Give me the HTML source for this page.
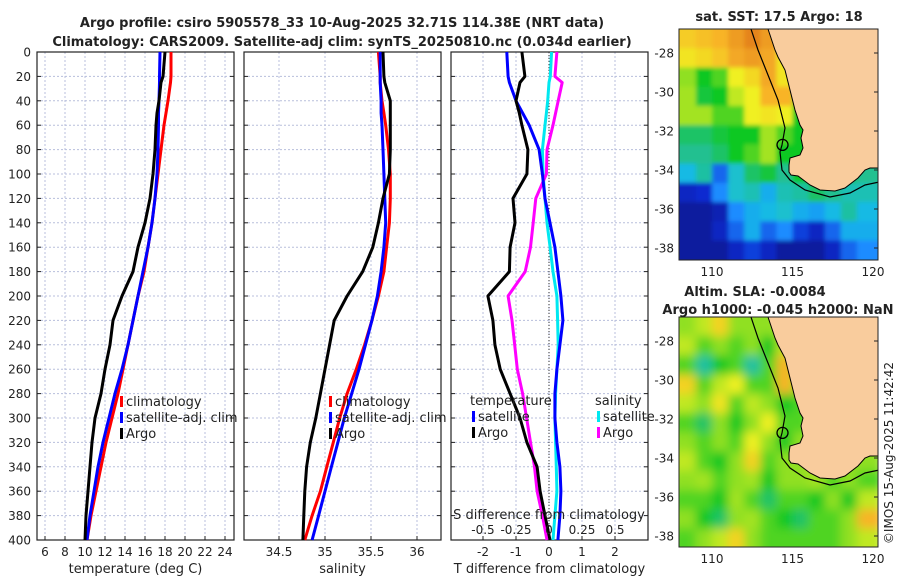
<!DOCTYPE html>
<html><head><meta charset="utf-8"><style>
body{margin:0;background:#fff;}
svg text{font-family:"DejaVu Sans","Liberation Sans",sans-serif;fill:#222;}
</style></head><body>
<svg id="c" width="900" height="580" viewBox="0 0 900 580" xmlns="http://www.w3.org/2000/svg">
<defs><filter id="blurS" x="-5%" y="-5%" width="110%" height="110%"><feGaussianBlur stdDeviation="2"/></filter>
<filter id="blurA" x="-5%" y="-5%" width="110%" height="110%"><feGaussianBlur stdDeviation="5"/></filter></defs>
</svg>
<script>
// ---- data ----
const depthT = [0,20,25,40,50,60,80,100,120,140,160,180,200,220,240,260,280,300,320,340,360,380,400];
const tempClim = [18.6,18.6,18.55,18.3,18.1,17.9,17.6,17.3,17.0,16.7,16.3,15.9,15.3,14.8,14.3,13.8,13.3,12.7,12.1,11.6,11.1,10.6,10.2];
const tempSat  = [17.5,17.45,17.45,17.4,17.35,17.35,17.3,17.2,17.0,16.7,16.3,15.8,15.3,14.8,14.3,13.7,13.0,12.4,11.8,11.3,10.9,10.5,10.2];
const tempArgo = [18.0,17.8,17.6,17.4,17.2,17.1,17.0,16.8,16.5,16.0,15.3,14.8,13.7,12.8,12.5,12.0,11.6,11.0,10.7,10.5,10.3,10.1,10.0];
const salClim = [35.58,35.6,35.6,35.62,35.64,35.66,35.69,35.71,35.71,35.7,35.67,35.64,35.58,35.51,35.43,35.34,35.24,35.16,35.09,35.02,34.95,34.86,34.78];
const salSat  = [35.6,35.6,35.6,35.61,35.61,35.62,35.63,35.64,35.65,35.66,35.64,35.61,35.57,35.51,35.44,35.37,35.29,35.21,35.14,35.07,35.0,34.93,34.86];
const salArgo = [35.63,35.64,35.65,35.71,35.71,35.71,35.71,35.7,35.63,35.58,35.52,35.41,35.24,35.1,35.05,35.0,34.95,34.9,34.84,34.8,34.78,34.77,34.76];
const dTSat  = [-1.28,-1.24,-1.2,-1.0,-0.8,-0.6,-0.3,-0.2,-0.12,0.03,0.18,0.27,0.36,0.42,0.33,0.24,0.18,0.18,0.24,0.33,0.36,0.33,0.27];
const dTArgo = [-0.82,-0.73,-0.88,-1.0,-0.9,-0.82,-0.64,-0.67,-1.09,-1.03,-1.18,-1.2,-1.85,-1.7,-1.64,-1.48,-1.18,-0.88,-0.67,-0.36,-0.27,-0.12,0.03];
const dSSat  = [0.02,0.01,0.0,-0.01,-0.02,-0.03,-0.05,-0.045,-0.03,-0.015,0.008,0.03,0.06,0.065,0.07,0.06,0.05,0.045,0.05,0.055,0.06,0.045,0.03];
const dSArgo = [0.06,0.045,0.1,0.07,0.05,0.03,-0.015,-0.02,-0.1,-0.12,-0.14,-0.18,-0.31,-0.28,-0.26,-0.24,-0.2,-0.17,-0.14,-0.11,-0.09,-0.05,-0.015];
const depthTicks = [0,20,40,60,80,100,120,140,160,180,200,220,240,260,280,300,320,340,360,380,400];
const tempTicks = [6,8,10,12,14,16,18,20,22,24];
const salTicks = [34.5,35,35.5,36];
const dTTicks = [-2,-1,0,1,2];
const dSTickLabels = ["-0.5","-0.25","0","0.25","0.5"];
const dSTicks = [-0.5,-0.25,0,0.25,0.5];
const latTicks = [-28,-30,-32,-34,-36,-38];
const lonTicks = [110,115,120];
const sstGrid = [
[.76,.78,.80,.84,.88,.84,.78,.6,.5,.5,.5,.5],
[.72,.74,.77,.82,.84,.82,.72,.6,.5,.5,.5,.5],
[.60,.50,.55,.70,.74,.82,.72,.55,.5,.5,.5,.5],
[.62,.48,.50,.65,.70,.80,.80,.60,.5,.5,.5,.5],
[.62,.62,.55,.55,.70,.72,.70,.50,.5,.5,.5,.5],
[.45,.45,.48,.50,.50,.62,.55,.50,.45,.5,.5,.5],
[.42,.42,.45,.50,.55,.62,.50,.50,.35,.45,.45,.45],
[.32,.40,.20,.35,.45,.48,.42,.50,.48,.45,.45,.42],
[.10,.12,.25,.35,.38,.30,.38,.40,.45,.42,.38,.38],
[.05,.05,.08,.25,.30,.32,.35,.30,.28,.32,.40,.32],
[.05,.05,.10,.20,.30,.20,.25,.15,.10,.20,.30,.30],
[.05,.05,.05,.10,.15,.10,.05,.05,.05,.10,.20,.25]];
const slaGrid = [
[.60,.65,.75,.60,.60,.60,.62,.55,.6,.6,.6,.6],
[.65,.55,.60,.55,.60,.50,.65,.60,.6,.6,.6,.6],
[.55,.40,.50,.55,.40,.55,.80,.60,.6,.6,.6,.6],
[.75,.55,.65,.70,.55,.55,.80,.60,.6,.6,.6,.6],
[.65,.60,.72,.55,.65,.60,.50,.55,.6,.6,.6,.6],
[.55,.45,.60,.50,.60,.70,.55,.55,.6,.6,.6,.6],
[.60,.55,.60,.55,.70,.60,.50,.60,.6,.6,.6,.6],
[.65,.55,.50,.60,.75,.55,.60,.60,.65,.60,.60,.60],
[.60,.62,.55,.60,.62,.50,.60,.60,.62,.55,.60,.55],
[.55,.55,.50,.62,.55,.45,.55,.55,.50,.60,.50,.65],
[.60,.50,.45,.60,.62,.55,.50,.45,.55,.55,.60,.80],
[.55,.60,.65,.75,.60,.55,.55,.55,.55,.55,.60,.65]];

// ---- helpers ----
const svg=document.getElementById('c');const NS='http://www.w3.org/2000/svg';
function mk(tag,attrs,parent){const e=document.createElementNS(NS,tag);for(const k in attrs)e.setAttribute(k,attrs[k]);(parent||svg).appendChild(e);return e;}
function txt(s,x,y,attrs,parent){const t=mk('text',Object.assign({x:x,y:y},attrs||{}),parent);t.textContent=s;return t;}
const top0=52,bot0=540;
const yD=d=>top0+d*(bot0-top0)/400;
function lin(d0,d1,r0,r1){return v=>r0+(v-d0)*(r1-r0)/(d1-d0);}
const panels=[
 {x0:37,x1:234,sc:lin(6,24,45,225),ticks:tempTicks,label:'temperature (deg C)',name:'temperature-panel'},
 {x0:244,x1:441,sc:lin(34.5,36,279,417),ticks:salTicks,label:'salinity',name:'salinity-panel'},
 {x0:451,x1:648,sc:lin(0,1,549,582),ticks:dTTicks,label:'T difference from climatology',name:'difference-panel'}];
const sS=lin(0,0.25,549,582);

const t1=txt('Argo profile: csiro 5905578_33 10-Aug-2025 32.71S 114.38E (NRT data)',342,27,{'text-anchor':'middle','font-size':'13','font-weight':'bold'});

const t2=txt('Climatology: CARS2009. Satellite-adj clim: synTS_20250810.nc (0.034d earlier)',342,46,{'text-anchor':'middle','font-size':'13','font-weight':'bold'});


panels.forEach((p,pi)=>{
 const g=mk('g',{});
 
 depthTicks.forEach(d=>{const l=mk('line',{x1:p.x0,x2:p.x1,y1:yD(d),y2:yD(d),stroke:'#b8bfdc','stroke-width':1,'stroke-dasharray':'2,2'},g);
  
  mk('line',{x1:p.x0,x2:p.x0+4,y1:yD(d),y2:yD(d),stroke:'#222'},g);mk('line',{x1:p.x1-4,x2:p.x1,y1:yD(d),y2:yD(d),stroke:'#222'},g);});
 p.ticks.forEach(v=>{const x=p.sc(v);const l=mk('line',{x1:x,x2:x,y1:top0,y2:bot0,stroke:'#b8bfdc','stroke-width':1,'stroke-dasharray':'2,2'},g);
  
  mk('line',{x1:x,x2:x,y1:bot0-4,y2:bot0,stroke:'#222'},g);
  const tl=txt(String(v),x,556,{'text-anchor':'middle','font-size':'12'},g);});
 const xl=txt(p.label,(p.x0+p.x1)/2,573,{'text-anchor':'middle','font-size':'13'},g);
 
 const fr=mk('rect',{x:p.x0,y:top0,width:p.x1-p.x0,height:bot0-top0,fill:'none',stroke:'#222','stroke-width':1.2},g);
 
});
depthTicks.forEach(d=>{const tl=txt(String(d),31,yD(d)+4.5,{'text-anchor':'end','font-size':'12'});
 });
const zl=mk('line',{x1:549,x2:549,y1:top0,y2:bot0,stroke:'#333','stroke-dasharray':'1,2'});


function series(vals,sc,color,name){
 const pts=vals.map((v,i)=>sc(v).toFixed(1)+','+yD(depthT[i]).toFixed(1)).join(' ');
 const l=mk('polyline',{points:pts,fill:'none',stroke:color,'stroke-width':3,'stroke-linejoin':'round'});
 }
series(tempClim,panels[0].sc,'#ff0000','temp-climatology-line');
series(tempSat,panels[0].sc,'#0000ff','temp-satellite-line');
series(tempArgo,panels[0].sc,'#000','temp-argo-line');
series(salClim,panels[1].sc,'#ff0000','sal-climatology-line');
series(salSat,panels[1].sc,'#0000ff','sal-satellite-line');
series(salArgo,panels[1].sc,'#000','sal-argo-line');
series(dSSat,sS,'#00e8f0','sal-diff-satellite-line');
series(dSArgo,sS,'#ff00ff','sal-diff-argo-line');
series(dTSat,panels[2].sc,'#0000ff','temp-diff-satellite-line');
series(dTArgo,panels[2].sc,'#000','temp-diff-argo-line');

function legend(items,x,y,name){
 const g=mk('g',{});
 items.forEach((it,i)=>{const yy=y+i*16;
  if(it[1]) mk('rect',{x:x,y:yy-10,width:3,height:11,fill:it[1]},g);
  txt(it[0],x+(it[1]?6:-2),yy,{'font-size':'13'},g);});}
legend([['climatology','#ff0000'],['satellite-adj. clim','#0000ff'],['Argo','#000']],120,406,'temperature-legend');
legend([['climatology','#ff0000'],['satellite-adj. clim','#0000ff'],['Argo','#000']],329,406,'salinity-legend');
legend([['temperature',null],['satellite','#0000ff'],['Argo','#000']],472,405,'temp-diff-legend');
legend([['salinity',null],['satellite','#00e8f0'],['Argo','#ff00ff']],597,405,'sal-diff-legend');
const sdt=txt('S difference from climatology',549,519,{'text-anchor':'middle','font-size':'13'});

dSTicks.forEach((v,i)=>{const tl=txt(dSTickLabels[i],sS(v),534,{'text-anchor':'middle','font-size':'12'});
 });

// ---- maps ----
const cmapStops=[[0,[6,18,122]],[0.12,[10,42,208]],[0.25,[26,140,255]],[0.33,[24,192,224]],[0.42,[32,192,144]],[0.5,[16,200,32]],[0.6,[144,224,32]],[0.7,[240,240,32]],[0.8,[248,180,40]],[0.9,[224,120,24]],[1,[192,64,16]]];
function cmap(v){for(let k=1;k<cmapStops.length;k++){const a=cmapStops[k-1],b=cmapStops[k];if(v<=b[0]){const t=(v-a[0])/(b[0]-a[0]);const c=a[1].map((q,m)=>Math.round(q+(b[1][m]-q)*t));return 'rgb('+c.join(',')+')';}}return 'rgb(192,64,16)';}
const lonX=lin(110,120,712,873);
const latTop=-26.77,latBot=-38.6;
function drawMap(grid,y0,y1,name,titles,blur){
 const g=mk('g',{});
 const latY=lin(-28,-38,y0+24,y0+219);
 const cid='clip'+name;const cp=mk('clipPath',{id:cid},g);mk('rect',{x:679,y:y0,width:199,height:y1-y0},cp);
 const cg=mk('g',{'clip-path':'url(#'+cid+')'},g);
 const bg=mk('g',{filter:'url(#'+blur+')'},cg);
 const rows=grid.length,rh=(latTop-latBot)/rows;
 grid.forEach((row,j)=>row.forEach((v,i)=>{
  const xa=lonX(108+i)-(i==0?10:0),xb=lonX(109+i)+(i==row.length-1?10:0),ya=latY(latTop-j*rh)-(j==0?10:0),yb=latY(latTop-(j+1)*rh)+(j==rows-1?10:0);
  const r=mk('rect',{x:xa,y:ya,width:xb-xa+0.5,height:yb-ya+0.5,fill:cmap(v)},bg);
  }));
 const o=y0-29;
 const land=[[768,29],[775,50],[778,57],[785,70],[790,90],[795,110],[800,125],[803,130],[801,138],[803,148],[800,155],[790,158],[789,165],[789,172],[791,175],[798,176],[810,185],[820,190],[835,191],[845,188],[858,178],[865,170],[870,168],[879,168],[879,28]];
 const lp=mk('polygon',{points:land.map(p=>p[0]+','+(p[1]+o)).join(' '),fill:'#f9cc9d',stroke:'#000','stroke-width':1},cg);
 
 const iso=[[751,29],[758,50],[770,80],[778,100],[785,128],[782,145],[780,152],[782,170],[790,180],[805,190],[830,197],[850,193],[865,185],[879,182]];
 const ip=mk('polyline',{points:iso.map(p=>p[0]+','+(p[1]+o)).join(' '),fill:'none',stroke:'#000','stroke-width':1.2},cg);
 
 const c=mk('circle',{cx:lonX(114.38),cy:latY(-32.71),r:5.5,fill:'none',stroke:'#000','stroke-width':1.3},g);
 
 mk('rect',{x:679,y:y0,width:199,height:y1-y0,fill:'none',stroke:'#222','stroke-width':1},g);
 latTicks.forEach(l=>{const tl=txt(String(l),674,latY(l)+4.5,{'text-anchor':'end','font-size':'12'},g);
  
  mk('line',{x1:874,x2:878,y1:latY(l),y2:latY(l),stroke:'#222'},g);});
 lonTicks.forEach(l=>{const tl=txt(String(l),lonX(l),y1+16,{'text-anchor':'middle','font-size':'12'},g);
  });
 titles.forEach((t,k)=>{const tt=txt(t[0],t[1],t[2],{'text-anchor':'middle','font-size':'13','font-weight':'bold'},g);
  });
}
drawMap(sstGrid,29,260,'sst-map',[['sat. SST: 17.5 Argo: 18',779,21]],'blurS');
drawMap(slaGrid,317,547,'sla-map',[['Altim. SLA: -0.0084',755,296],['Argo h1000: -0.045 h2000: NaN',778,314]],'blurA');
const ts=txt('©IMOS 15-Aug-2025 11:42:42',0,0,{'font-size':'12','text-anchor':'middle',transform:'translate(893,453) rotate(-90)'});

</script>
</body></html>
